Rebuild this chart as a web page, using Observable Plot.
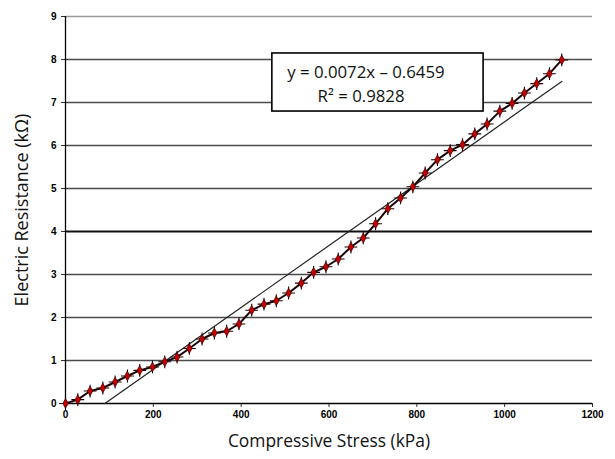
<!DOCTYPE html>
<html>
<head>
<meta charset="utf-8">
<script src="https://cdn.jsdelivr.net/npm/d3@7"></script>
<script src="https://cdn.jsdelivr.net/npm/@observablehq/plot@0.6"></script>
<style>
  html, body { margin: 0; padding: 0; background: white; }
</style>
</head>
<body>
<div id="chart"></div>
<script>
// Data
const stress = [0, 28, 56, 85, 113, 141, 169, 198, 226, 254, 282, 311, 339, 367, 395, 424, 452, 480, 508, 537, 565, 593, 621, 650, 678, 706, 734, 763, 791, 819, 847, 876, 904, 932, 960, 989, 1017, 1045, 1073, 1102, 1130];
const resistance = [0, 0.09, 0.29, 0.36, 0.50, 0.64, 0.77, 0.85, 0.97, 1.08, 1.28, 1.50, 1.64, 1.68, 1.85, 2.17, 2.31, 2.39, 2.57, 2.80, 3.05, 3.18, 3.36, 3.64, 3.85, 4.18, 4.53, 4.78, 5.04, 5.36, 5.67, 5.88, 6.02, 6.27, 6.50, 6.80, 6.98, 7.22, 7.44, 7.67, 7.99];

const xTicks = [0, 200, 400, 600, 800, 1000, 1200];
const yTicks = [0, 1, 2, 3, 4, 5, 6, 7, 8, 9];

// Linear trendline from the equation shown in the chart
const slope = 0.0072;
const intercept = -0.6459;
const trendRange = [89.7, 1130];

const eqLines = ["y = 0.0072x \u2013 0.6459", "R\u00B2 = 0.9828"];
const eqLineX = [684, 673];
const eqLineY = [7.70, 7.13];
const eqBox = [{x1: 471, x2: 952, y1: 6.79, y2: 8.14}];

const xTitle = "Compressive Stress (kPa)";
const yTitle = "Electric Resistance (k\u03A9)";

const points = stress.map((x, i) => ({x, y: resistance[i]}));
const eqData = eqLines.map((t, i) => ({t, x: eqLineX[i], y: eqLineY[i]}));

const tickFont = "Liberation Sans, Arial, sans-serif";
const titleFont = "Open Sans, sans-serif";

const chart = Plot.plot({
  width: 615,
  height: 459,
  marginLeft: 65,
  marginRight: 23,
  marginTop: 16,
  marginBottom: 56,
  x: {domain: [0, 1200]},
  y: {domain: [0, 9]},
  style: {background: "white", fontFamily: tickFont, color: "black"},
  marks: [
    // gridlines
    Plot.ruleY(yTicks.filter(d => d > 0 && d < 9 && d !== 4), {stroke: "#4a4a4a", strokeWidth: 1.4}),
    Plot.ruleY(yTicks.filter(d => d === 4), {stroke: "#111", strokeWidth: 2}),
    Plot.ruleY(yTicks.filter(d => d === 9), {stroke: "#999", strokeWidth: 1.3}),
    // axes
    Plot.axisY({ticks: yTicks, tickSize: 4, tickPadding: 5, tickFormat: d3.format("d"), fontWeight: "bold", fontSize: 10, fontFamily: tickFont, label: null, stroke: "#333"}),
    Plot.axisX({ticks: xTicks, tickSize: 4, tickPadding: 3, tickFormat: d3.format("d"), fontWeight: "bold", fontSize: 10, fontFamily: tickFont, label: null, stroke: "#333"}),
    Plot.ruleX([0], {stroke: "black", strokeWidth: 1.3}),
    Plot.ruleY([0], {stroke: "black", strokeWidth: 1.3}),
    // trendline
    Plot.line(trendRange, {x: d => d, y: d => slope * d + intercept, stroke: "#222", strokeWidth: 1.2}),
    // data series
    Plot.line(points, {x: "x", y: "y", stroke: "#1a0606", strokeWidth: 2}),
    Plot.dot(points, {x: "x", y: "y", symbol: "plus", r: 4.2, stroke: "#1a0000", strokeWidth: 1.1}),
    Plot.dot(points, {x: "x", y: "y", symbol: "diamond", r: 2.9, fill: "#c40000", stroke: "#3a0000", strokeWidth: 0.7}),
    // equation box
    Plot.rect(eqBox, {x1: "x1", x2: "x2", y1: "y1", y2: "y2", fill: "white", stroke: "black", strokeWidth: 1.6}),
    Plot.text(eqData, {x: "x", y: "y", text: "t", fontSize: 16.8, fontFamily: titleFont, fill: "#111"}),
    // axis titles
    Plot.text([xTitle], {frameAnchor: "bottom", dy: 38, lineAnchor: "middle", text: d => d, fontSize: 17.4, fontFamily: titleFont, fill: "#111"}),
    Plot.text([yTitle], {frameAnchor: "left", dx: -43, rotate: -90, textAnchor: "middle", lineAnchor: "middle", text: d => d, fontSize: 18, fontFamily: titleFont, fill: "#111"})
  ]
});

document.getElementById("chart").appendChild(chart);
</script>
</body>
</html>
